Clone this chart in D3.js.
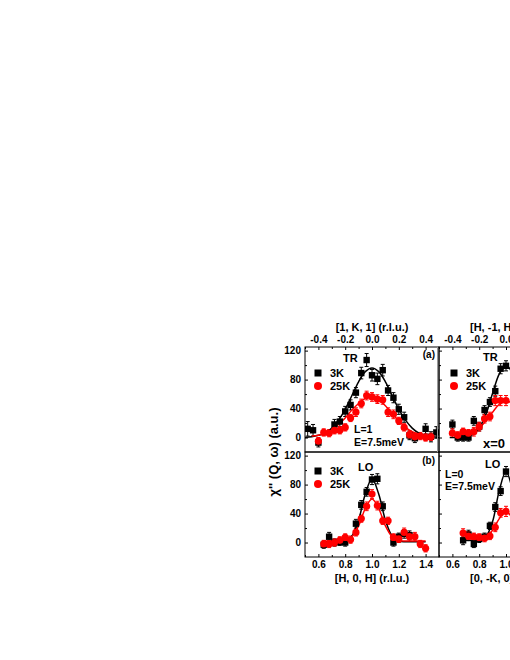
<!DOCTYPE html>
<html>
<head>
<meta charset="utf-8">
<script src="https://cdn.jsdelivr.net/npm/d3@7"></script>
<style>
  body { margin: 0; background: #fff; }
  svg { display: block; font-family: "Liberation Sans", Arial, sans-serif; font-weight: bold; }
</style>
</head>
<body>
<script>
// panel (a): TR, [1, K, 1]
const aK3 = [-0.48, -0.44, -0.40, -0.28, -0.24, -0.20, -0.16, -0.12, -0.08, -0.04, 0.00, 0.04, 0.08, 0.12, 0.16, 0.20, 0.24, 0.28, 0.32, 0.40, 0.44, 0.48];
const a3K = [12, 10, -7, 18, 22, 36, 45, 62, 89, 107, 86, 81, 93, 65, 55, 39, 28, 3, -1, 12, 1, 7];
const a3Kerr = [10, 8, 6, 7, 7, 7, 7, 7, 8, 9, 8, 8, 8, 7, 7, 7, 7, 6, 6, 7, 7, 8];
const aK25 = [-0.40, -0.36, -0.32, -0.28, -0.24, -0.20, -0.16, -0.12, -0.08, -0.04, 0.00, 0.04, 0.08, 0.12, 0.16, 0.20, 0.24, 0.28, 0.32, 0.36, 0.40, 0.44];
const a25K = [-5, 7, 6, 10, 10, 14, 27, 35, 47, 58, 56, 53, 52, 35, 32, 23, 14, 4, 1, 2, 0, 1];
const a25Kerr = [5, 5, 5, 5, 5, 5, 5, 6, 6, 6, 6, 6, 6, 6, 6, 5, 5, 5, 5, 5, 5, 5];
const aFitK = [-0.50, -0.45, -0.40, -0.35, -0.30, -0.25, -0.20, -0.15, -0.10, -0.05, 0.00, 0.05, 0.10, 0.15, 0.20, 0.25, 0.30, 0.35, 0.40, 0.45, 0.50];
const aFit3K = [0, 1, 3, 6, 13, 24, 39, 58, 77, 91, 96, 91, 77, 58, 39, 24, 13, 6, 3, 1, 0];
const aFitK25 = [-0.45, -0.40, -0.35, -0.30, -0.25, -0.20, -0.15, -0.10, -0.05, 0.00, 0.05, 0.10, 0.15, 0.20, 0.25, 0.30, 0.35, 0.40, 0.45];
const aFit25K = [2, 3, 6, 10, 18, 27, 38, 47, 54, 56, 52, 44, 33, 23, 14, 8, 5, 3, 2];

// panel (b): LO, [H, 0, H]
const bH3 = [0.64, 0.68, 0.72, 0.76, 0.80, 0.88, 0.92, 0.96, 1.00, 1.04, 1.08, 1.16, 1.20, 1.24, 1.28];
const b3K = [-3, 8, 0, 1, 0, 26, 52, 70, 87, 88, 50, 0, 8, 12, 10];
const b3Kerr = [5, 6, 5, 5, 5, 6, 6, 6, 7, 7, 6, 5, 5, 6, 6];
const bH25 = [0.64, 0.68, 0.72, 0.76, 0.80, 0.84, 0.88, 0.92, 0.96, 1.00, 1.04, 1.08, 1.12, 1.16, 1.20, 1.24, 1.28, 1.32, 1.36, 1.40];
const b25K = [-2, -2, 0, 3, 7, 4, 14, 33, 50, 67, 51, 30, 30, 7, 5, 14, 8, 8, -2, -8];
const b25Kerr = [5, 5, 5, 5, 5, 5, 5, 5, 6, 6, 6, 5, 5, 5, 5, 6, 6, 6, 5, 5];
const bFitH = [0.64, 0.70, 0.75, 0.80, 0.85, 0.90, 0.95, 1.00, 1.05, 1.10, 1.15, 1.20, 1.25, 1.30, 1.35, 1.40];
const bFit3K = [1, 1, 1, 2, 9, 31, 67, 88, 67, 31, 9, 2, 1, 1, 1, 1];
const bFit25K = [2, 2, 2, 3, 8, 23, 47, 60, 47, 23, 8, 3, 2, 2, 2, 2];

// panel (c): TR, [H, -1, H]
const cK = [-0.40, -0.36, -0.32, -0.28, -0.24, -0.20, -0.16, -0.12, -0.08, -0.04, 0.00];
const c3K = [18, 0, 0, 0, 23, 15, 38, 49, 64, 95, 99];
const c25K = [6, 3, 8, 6, 8, 15, 26, 29, 51, 51, 51];
const cErr = [6, 5, 5, 5, 6, 6, 6, 6, 7, 7, 7];
const cFitK = [-0.42, -0.35, -0.30, -0.25, -0.20, -0.15, -0.10, -0.05, 0.00, 0.05, 0.10];
const cFit3K = [0, 0, 1, 4, 13, 32, 61, 88, 100, 88, 61];
const cFit25K = [4, 4, 5, 8, 13, 23, 35, 46, 51, 46, 35];

// panel (d): LO, [0, -K, 0]
const dH = [0.68, 0.72, 0.76, 0.80, 0.84, 0.88, 0.92, 0.96, 1.00];
const d3K = [3, 11, -2, 5, 8, 23, 49, 71, 98];
const d25K = [13, 9, 8, 7, 6, 9, 21, 41, 43];
const dErr = [6, 6, 5, 5, 5, 5, 6, 6, 7];
const dFitH = [0.68, 0.75, 0.80, 0.85, 0.90, 0.95, 1.00, 1.05, 1.10];
const dFit3K = [3, 3, 4, 8, 29, 72, 98, 72, 29];
const dFit25K = [5, 5, 5, 8, 17, 33, 43, 33, 17];

const yTicks = [0, 40, 80, 120];
const kTicks = [-0.4, -0.2, 0.0, 0.2, 0.4];
const hTicks = [0.6, 0.8, 1.0, 1.2, 1.4];

const W = 510, H = 660;
const RED = '#ff0000';
const FONT = '"Liberation Sans", Arial, sans-serif';

const svg = d3.select('body').append('svg')
  .attr('width', W).attr('height', H)
  .style('overflow', 'hidden');

const zip = (xs, ys, es) => xs.map((x, i) => ({ x: x, y: ys[i], e: es ? es[i] : 0 }));

const panels = [
  { id: 'a', x0: 305, x1: 439, y0: 347, y1: 452, dom: [-0.5, 0.5], ticks: kTicks, axis: 'top', yLabels: true,
    s3: zip(aK3, a3K, a3Kerr), s25: zip(aK25, a25K, a25Kerr), f3: zip(aFitK, aFit3K), f25: zip(aFitK25, aFit25K) },
  { id: 'b', x0: 305, x1: 439, y0: 452, y1: 557, dom: [0.5, 1.5], ticks: hTicks, axis: 'bottom', yLabels: true,
    s3: zip(bH3, b3K, b3Kerr), s25: zip(bH25, b25K, b25Kerr), f3: zip(bFitH, bFit3K), f25: zip(bFitH, bFit25K) },
  { id: 'c', x0: 439, x1: 573, y0: 347, y1: 452, dom: [-0.5, 0.5], ticks: kTicks, axis: 'top', yLabels: false,
    s3: zip(cK, c3K, cErr), s25: zip(cK, c25K, cErr), f3: zip(cFitK, cFit3K), f25: zip(cFitK, cFit25K) },
  { id: 'd', x0: 439, x1: 573, y0: 452, y1: 557, dom: [0.5, 1.5], ticks: hTicks, axis: 'bottom', yLabels: false,
    s3: zip(dH, d3K, dErr), s25: zip(dH, d25K, dErr), f3: zip(dFitH, dFit3K), f25: zip(dFitH, dFit25K) }
];

const styleAxis = sel => {
  sel.attr('font-family', FONT);
  sel.select('.domain').remove();
  sel.selectAll('text').style('font-size', '10px').style('font-weight', 'bold');
};

panels.forEach(p => {
  const x = d3.scaleLinear().domain(p.dom).range([p.x0, p.x1]);
  const y = d3.scaleLinear().domain([-20, 125]).range([p.y1, p.y0]);

  svg.append('clipPath').attr('id', 'clip-' + p.id)
    .append('rect').attr('x', p.x0).attr('y', p.y0)
    .attr('width', p.x1 - p.x0).attr('height', p.y1 - p.y0);

  // y axis (ticks inward)
  svg.append('g').attr('transform', `translate(${p.x0},0)`)
    .call(d3.axisLeft(y).tickValues(yTicks).tickSize(-3).tickPadding(4)
      .tickFormat(p.yLabels ? d3.format('d') : ''))
    .call(styleAxis);
  svg.append('g').attr('transform', `translate(${p.x0},0)`)
    .call(d3.axisLeft(y).tickValues([20, 60, 100]).tickSize(-2).tickFormat(''))
    .call(styleAxis);

  // x axis (ticks inward)
  const top = p.axis === 'top';
  const mk = () => top ? d3.axisTop(x) : d3.axisBottom(x);
  svg.append('g').attr('transform', `translate(0,${top ? p.y0 : p.y1})`)
    .call(mk().tickValues(p.ticks).tickSize(-3).tickPadding(4).tickFormat(d => d.toFixed(1)))
    .call(styleAxis);
  const minor = p.ticks.map(t => t + 0.1).concat([p.ticks[0] - 0.1]);
  svg.append('g').attr('transform', `translate(0,${top ? p.y0 : p.y1})`)
    .call(mk().tickValues(minor).tickSize(-2).tickFormat(''))
    .call(styleAxis);

  const g = svg.append('g').attr('clip-path', `url(#clip-${p.id})`);
  const line = d3.line().x(d => x(d.x)).y(d => y(d.y)).curve(d3.curveCatmullRom);

  // error bars
  [[p.s3, '#000'], [p.s25, RED]].forEach(([s, col]) => {
    const eb = g.append('g').attr('stroke', col).attr('stroke-width', 1);
    eb.selectAll('line.v').data(s).join('line').attr('class', 'v')
      .attr('x1', d => x(d.x)).attr('x2', d => x(d.x))
      .attr('y1', d => y(d.y - d.e)).attr('y2', d => y(d.y + d.e));
    eb.selectAll('line.t').data(s).join('line').attr('class', 't')
      .attr('x1', d => x(d.x) - 2).attr('x2', d => x(d.x) + 2)
      .attr('y1', d => y(d.y + d.e)).attr('y2', d => y(d.y + d.e));
    eb.selectAll('line.b').data(s).join('line').attr('class', 'b')
      .attr('x1', d => x(d.x) - 2).attr('x2', d => x(d.x) + 2)
      .attr('y1', d => y(d.y - d.e)).attr('y2', d => y(d.y - d.e));
  });

  g.append('path').datum(p.f3).attr('d', line)
    .attr('fill', 'none').attr('stroke', '#000').attr('stroke-width', 1.5);
  g.append('path').datum(p.f25).attr('d', line)
    .attr('fill', 'none').attr('stroke', RED).attr('stroke-width', 1.5);

  g.selectAll('rect.sq').data(p.s3).join('rect').attr('class', 'sq')
    .attr('x', d => x(d.x) - 3.2).attr('y', d => y(d.y) - 3.2)
    .attr('width', 6.4).attr('height', 6.4).attr('fill', '#000');
  g.selectAll('circle.ci').data(p.s25).join('circle').attr('class', 'ci')
    .attr('cx', d => x(d.x)).attr('cy', d => y(d.y)).attr('r', 3.6).attr('fill', RED);

  // frame
  svg.append('rect').attr('x', p.x0).attr('y', p.y0)
    .attr('width', p.x1 - p.x0).attr('height', p.y1 - p.y0)
    .attr('fill', 'none').attr('stroke', '#000').attr('stroke-width', 1);
});

// thin grey line at the right edge of panel (a)
svg.append('line').attr('x1', 437.5).attr('x2', 437.5).attr('y1', 347).attr('y2', 452)
  .attr('stroke', '#999').attr('stroke-width', 1);

const txt = (x, y, s, size, anchor) => svg.append('text')
  .attr('x', x).attr('y', y).attr('text-anchor', anchor || 'start')
  .style('font-size', size + 'px').style('font-weight', 'bold').text(s);

// legends
function legend(xm, ym) {
  svg.append('rect').attr('x', xm - 3.5).attr('y', ym - 3.5).attr('width', 7).attr('height', 7).attr('fill', '#000');
  txt(xm + 12, ym + 4, '3K', 11);
  svg.append('circle').attr('cx', xm).attr('cy', ym + 13).attr('r', 4).attr('fill', RED);
  txt(xm + 12, ym + 17, '25K', 11);
}
legend(318, 373);
legend(318, 471);
legend(454, 373);

// panel annotations
txt(343, 362, 'TR', 11);
txt(435, 358, '(a)', 10, 'end');
txt(358, 471, 'LO', 11);
txt(435, 464, '(b)', 10, 'end');
txt(354, 433, 'L=1', 10.5);
txt(354, 446, 'E=7.5meV', 10.5);
txt(483, 361, 'TR', 11);
txt(485, 468, 'LO', 11);
txt(445, 478, 'L=0', 10.5);
txt(445, 489.5, 'E=7.5meV', 10.5);
txt(483, 448, 'x=0', 13);

// axis titles
txt(372, 331, '[1, K, 1] (r.l.u.)', 11, 'middle');
txt(470, 331, '[H, -1, H] (r.l.u.)', 11);
txt(372, 582, '[H, 0, H] (r.l.u.)', 11, 'middle');
txt(470, 582, '[0, -K, 0] (r.l.u.)', 11);
svg.append('text').attr('transform', 'translate(278,452) rotate(-90)')
  .attr('text-anchor', 'middle').style('font-size', '13px').style('font-weight', 'bold')
  .text('\u03C7\'\' (Q, \u03C9) (a.u.)');
</script>
</body>
</html>
